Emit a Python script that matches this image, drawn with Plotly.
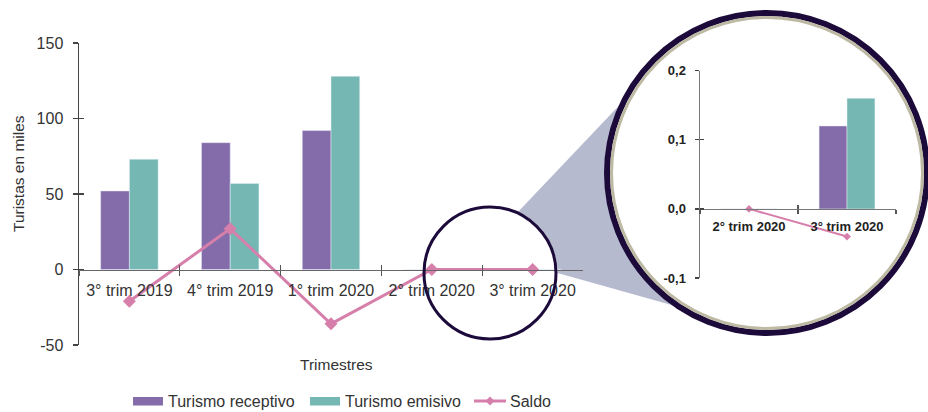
import numpy as np
import plotly.graph_objects as go

# ---------------- data ----------------
categories = ["3° trim 2019", "4° trim 2019", "1° trim 2020", "2° trim 2020", "3° trim 2020"]
receptivo = [52, 84, 92, 0, 0.12]
emisivo = [73, 57, 128, 0, 0.16]
saldo = [-21, 27, -36, 0, -0.04]
series_names = ["Turismo receptivo", "Turismo emisivo", "Saldo"]

main_yticks = [-50, 0, 50, 100, 150]
main_yticklabels = ["-50", "0", "50", "100", "150"]
inset_categories = categories[3:]
inset_yticks = [-0.1, 0.0, 0.1, 0.2]
inset_yticklabels = ["-0,1", "0,0", "0,1", "0,2"]

# ---------------- style ----------------
PURPLE = "#846BA9"
TEAL = "#75B8B3"
PINK = "#D67FAB"
NAVY = "#1C0B3A"
BEIGE = "#BDB9A3"
FUNNEL = "#B5BACF"
TXT = "#333333"
FONT = "Liberation Sans, Arial, Helvetica, sans-serif"

W, H = 928, 412


def px(x):
    return x / W


def py(y):
    return 1 - y / H


main_xdom = [px(79), px(583)]
main_ydom = [py(345), py(43)]
main_yrange = [-50, 150]
inset_xdom = [px(700), px(896)]
inset_ydom = [py(278), py(70.7)]
inset_yrange = [-0.1, 0.2]


def zero_pos(dom, rng):
    return dom[0] + (0 - rng[0]) / (rng[1] - rng[0]) * (dom[1] - dom[0])


main_zero = zero_pos(main_ydom, main_yrange)
inset_zero = zero_pos(inset_ydom, inset_yrange)

fig = go.Figure()

# main chart
fig.add_trace(go.Bar(x=categories, y=receptivo, name=series_names[0], marker_color=PURPLE,
                     xaxis="x", yaxis="y"))
fig.add_trace(go.Bar(x=categories, y=emisivo, name=series_names[1], marker_color=TEAL,
                     xaxis="x", yaxis="y"))
fig.add_trace(go.Scatter(x=categories, y=saldo, name=series_names[2], mode="lines+markers",
                         line=dict(color=PINK, width=3),
                         marker=dict(symbol="diamond", size=10, color=PINK),
                         xaxis="x", yaxis="y"))
# inset chart
fig.add_trace(go.Bar(x=inset_categories, y=receptivo[3:], marker_color=PURPLE,
                     xaxis="x2", yaxis="y2"))
fig.add_trace(go.Bar(x=inset_categories, y=emisivo[3:], marker_color=TEAL,
                     xaxis="x2", yaxis="y2"))
fig.add_trace(go.Scatter(x=inset_categories, y=saldo[3:], mode="lines+markers",
                         line=dict(color=PINK, width=2),
                         marker=dict(symbol="diamond", size=6, color=PINK),
                         xaxis="x2", yaxis="y2"))
# empty traces so the tick-overlay axes exist
fig.add_trace(go.Scatter(x=[], y=[], xaxis="x3", yaxis="y3"))
fig.add_trace(go.Scatter(x=[], y=[], xaxis="x4", yaxis="y4"))

n_main = len(categories)
n_inset = len(inset_categories)
main_bounds = list(np.arange(n_main + 1) - 0.5)
inset_bounds = list(np.arange(n_inset + 1) - 0.5)

axis_common = dict(showgrid=False, zeroline=False, automargin=False, fixedrange=True)

fig.update_layout(
    width=W, height=H,
    margin=dict(l=0, r=0, t=0, b=0),
    paper_bgcolor="white", plot_bgcolor="rgba(0,0,0,0)",
    showlegend=False, hovermode=False,
    barmode="group", bargap=0.43, bargroupgap=0,
    font=dict(family=FONT, color=TXT),
    xaxis=dict(domain=main_xdom, type="category", range=[-0.5, n_main - 0.5],
               anchor="free", position=main_zero, tickson="boundaries",
               ticks="outside", ticklen=5, tickwidth=1.2, tickcolor="#555",
               showline=True, linecolor="#666", linewidth=1.5,
               tickfont=dict(size=16, color=TXT, family=FONT), ticklabelstandoff=6,
               **axis_common),
    yaxis=dict(domain=main_ydom, range=main_yrange, anchor="x",
               tickmode="array", tickvals=main_yticks, ticktext=main_yticklabels,
               ticks="outside", ticklen=5, tickwidth=1.2, tickcolor="#444",
               showline=True, linecolor="#444", linewidth=1.5,
               tickfont=dict(size=16, color=TXT, family=FONT), ticklabelstandoff=6,
               **axis_common),
    xaxis3=dict(domain=main_xdom, range=[-0.5, n_main - 0.5], overlaying="x",
                anchor="free", position=main_zero, tickmode="array", tickvals=main_bounds,
                ticks="inside", ticklen=5, tickwidth=1.2, tickcolor="#555",
                showticklabels=False, showline=False, **axis_common),
    yaxis3=dict(domain=main_ydom, range=main_yrange, overlaying="y", anchor="x3",
                tickmode="array", tickvals=main_yticks,
                ticks="inside", ticklen=5, tickwidth=1.2, tickcolor="#444",
                showticklabels=False, showline=False, **axis_common),
    xaxis2=dict(domain=inset_xdom, type="category", range=[-0.5, n_inset - 0.5],
                anchor="free", position=inset_zero, tickson="boundaries",
                ticks="outside", ticklen=4, tickwidth=1.2, tickcolor="#555",
                showline=True, linecolor="#777", linewidth=1.5,
                tickfont=dict(size=13, color="#222", family=FONT, weight="bold"),
                ticklabelstandoff=5, **axis_common),
    yaxis2=dict(domain=inset_ydom, range=inset_yrange, anchor="x2",
                tickmode="array", tickvals=inset_yticks, ticktext=inset_yticklabels,
                ticks="outside", ticklen=4, tickwidth=1.2, tickcolor="#444",
                showline=True, linecolor="#777", linewidth=1.5,
                tickfont=dict(size=13, color="#222", family=FONT, weight="bold"),
                ticklabelstandoff=6, **axis_common),
    xaxis4=dict(domain=inset_xdom, range=[-0.5, n_inset - 0.5], overlaying="x2",
                anchor="free", position=inset_zero, tickmode="array", tickvals=inset_bounds,
                ticks="inside", ticklen=4, tickwidth=1.2, tickcolor="#555",
                showticklabels=False, showline=False, **axis_common),
    yaxis4=dict(domain=inset_ydom, range=inset_yrange, overlaying="y2", anchor="x4",
                tickmode="array", tickvals=inset_yticks,
                ticks="inside", ticklen=4, tickwidth=1.2, tickcolor="#444",
                showticklabels=False, showline=False, **axis_common),
)

# ---------------- magnifier decoration ----------------
sc_x, sc_y, sc_r = 490, 273, 66          # small circle (pixels)
bc_x, bc_y, bc_r = 767, 173, 160         # big circle (pixels)


def pt(x, y):
    return f"{px(x):.5f},{py(y):.5f}"


a1 = np.arctan2(212 - sc_y, 518 - sc_x)
angles = np.linspace(0, a1, 24)
r_out = sc_r + 1.5
arc = [pt(sc_x + r_out * np.cos(a), sc_y + r_out * np.sin(a)) for a in angles]
funnel_path = "M " + " L ".join(arc + [pt(650, 73), pt(bc_x, bc_y), pt(700, 313)]) + " Z"

shapes = [
    dict(type="path", path=funnel_path, xref="paper", yref="paper",
         fillcolor=FUNNEL, line=dict(width=0), layer="below"),
    dict(type="circle", xref="paper", yref="paper",
         x0=px(bc_x - bc_r), x1=px(bc_x + bc_r), y0=py(bc_y + bc_r), y1=py(bc_y - bc_r),
         fillcolor="white", line=dict(color=NAVY, width=6), layer="below"),
    dict(type="circle", xref="paper", yref="paper",
         x0=px(bc_x - bc_r + 4.5), x1=px(bc_x + bc_r - 4.5),
         y0=py(bc_y + bc_r - 4.5), y1=py(bc_y - bc_r + 4.5),
         line=dict(color=BEIGE, width=3), layer="below"),
    dict(type="circle", xref="paper", yref="paper",
         x0=px(sc_x - sc_r), x1=px(sc_x + sc_r), y0=py(sc_y + sc_r), y1=py(sc_y - sc_r),
         line=dict(color=NAVY, width=3), layer="above"),
]

# ---------------- manual legend ----------------
leg_y = 401
shapes += [
    dict(type="rect", xref="paper", yref="paper", x0=px(133), x1=px(163),
         y0=py(405.5), y1=py(397), fillcolor=PURPLE, line=dict(width=0)),
    dict(type="rect", xref="paper", yref="paper", x0=px(310), x1=px(340),
         y0=py(405.5), y1=py(397), fillcolor=TEAL, line=dict(width=0)),
    dict(type="line", xref="paper", yref="paper", x0=px(474), x1=px(506),
         y0=py(leg_y), y1=py(leg_y), line=dict(color=PINK, width=3)),
    dict(type="path", xref="paper", yref="paper",
         path="M " + " L ".join([pt(490, leg_y - 4.5), pt(494.5, leg_y), pt(490, leg_y + 4.5),
                                 pt(485.5, leg_y)]) + " Z",
         fillcolor=PINK, line=dict(width=0)),
]
fig.update_layout(shapes=shapes)

annotations = [
    dict(text=series_names[0], x=px(166), y=py(leg_y), xanchor="left", yanchor="middle",
         size=16),
    dict(text=series_names[1], x=px(343), y=py(leg_y), xanchor="left", yanchor="middle",
         size=16),
    dict(text=series_names[2], x=px(508), y=py(leg_y), xanchor="left", yanchor="middle",
         size=16),
    dict(text="Turistas en miles", x=px(18), y=py(174), textangle=-90,
         xanchor="center", yanchor="middle", size=15.5),
    dict(text="Trimestres", x=px(336), y=py(364), xanchor="center", yanchor="middle",
         size=15.5),
]
for a in annotations:
    size = a.pop("size")
    a.update(xref="paper", yref="paper", showarrow=False,
             font=dict(size=size, color=TXT, family=FONT))
fig.update_layout(annotations=annotations)

fig.write_html(
    "out.html",
    config={"displayModeBar": False, "staticPlot": True},
    post_script="document.body.style.margin='0';document.body.style.overflow='hidden';",
)
